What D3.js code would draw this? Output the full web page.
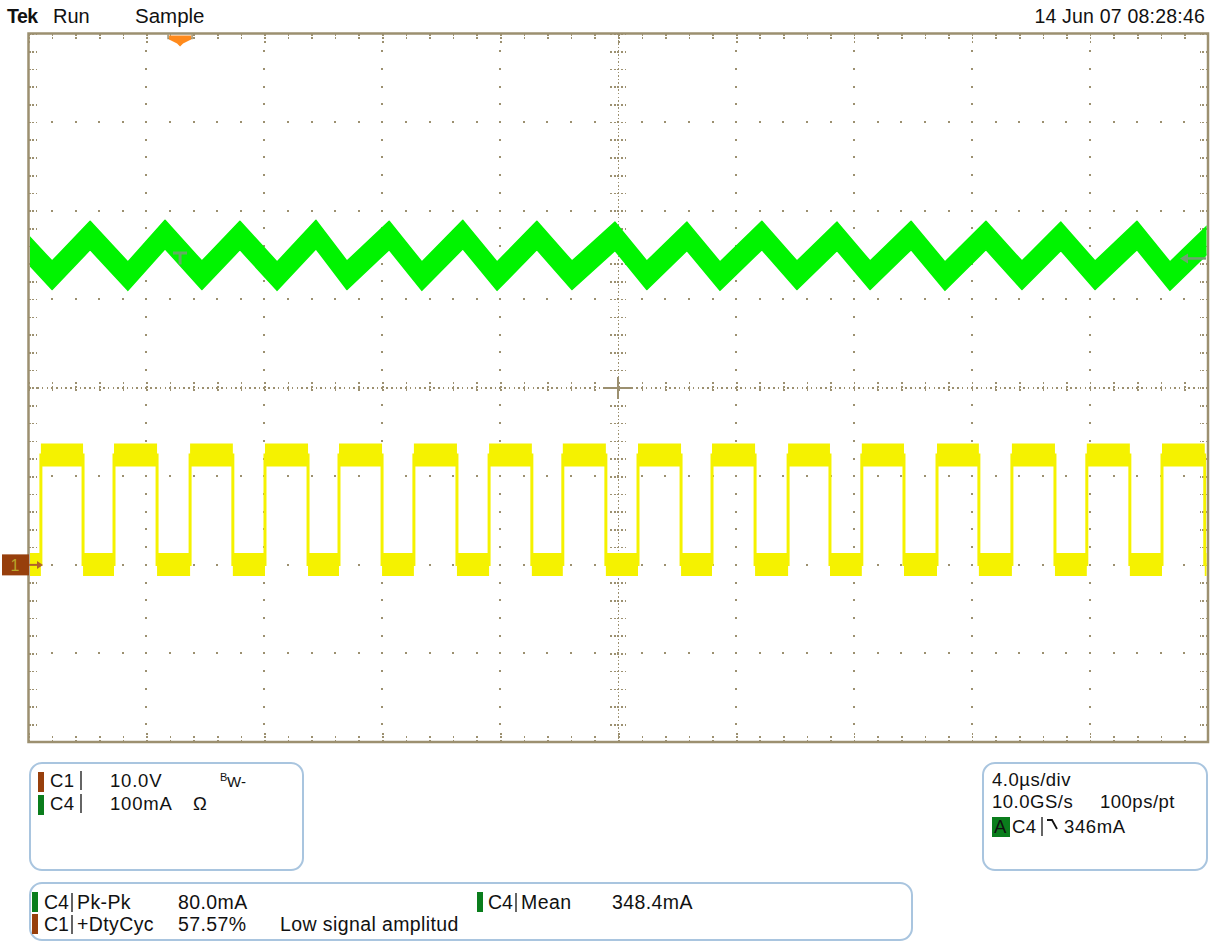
<!DOCTYPE html>
<html>
<head>
<meta charset="utf-8">
<script src="https://cdn.jsdelivr.net/npm/d3@7"></script>
<style>
  body { margin: 0; background: #fff; }
  text { font-family: "Liberation Sans", Arial, Helvetica, sans-serif; fill: #111; }
</style>
</head>
<body>
<svg id="scope" width="1214" height="942"></svg>
<script>
// ---- values (time in us from left edge, 4us/div) ----
var c4PeakTimes   = [-0.46, 2.09, 4.63, 7.17, 9.75, 12.23, 14.73, 17.24, 19.89, 22.33, 24.87, 27.42, 29.93, 32.47, 35.01, 37.59, 40.13];
var c4PeakMa      = [372, 372, 373, 372, 373, 372, 373, 372, 371, 371, 372, 371, 372, 372, 371, 372, 372];
var c4TroughTimes = [0.80, 3.37, 5.88, 8.43, 10.80, 13.34, 15.89, 18.43, 20.97, 23.45, 26.06, 28.54, 31.08, 33.69, 36.17, 38.71];
var c4TroughMa    = [327, 326, 327, 326, 327, 326, 326, 327, 327, 326, 327, 327, 326, 327, 327, 326];
var c4BandMa = 16;

var c1RiseTimes = [0.42, 2.90, 5.48, 8.02, 10.53, 13.07, 15.62, 18.12, 20.67, 23.18, 25.76, 28.26, 30.81, 33.35, 35.89, 38.44];
var c1FallTimes = [1.85, 4.36, 6.93, 9.48, 11.99, 14.53, 17.07, 19.58, 22.13, 24.64, 27.18, 29.69, 32.23, 34.81, 37.35, 39.89];
var c1HighV = 12.4, c1LowV = 0.05, c1BandV = 1.3;

var trigTime = 5.14, trigLevelMa = 346;

var headerLeft = ["Tek", "Run", "Sample"];
var headerDate = "14 Jun 07 08:28:46";
var chanRows = [["C1", "10.0V", "BW"], ["C4", "100mA", "\u03A9"]];
var timeRows = ["4.0\u00B5s/div", "10.0GS/s", "100ps/pt", "C4", "346mA"];
var measRows = [
  ["C4", "Pk-Pk", "80.0mA", ""],
  ["C1", "+DtyCyc", "57.57%", "Low signal amplitud"]
];
var meanRow = ["C4", "Mean", "348.4mA"];

// ---- layout ----
var svg = d3.select("#scope");
var L = 28.5, R = 1208, T = 33.5, B = 742;
var gridCol = "#9c9070";
var c1Col = "#f5f200", c4Col = "#00f400";
var c1Tag = "#973f0c", c4Tag = "#0a7d1c";

var x = d3.scaleLinear().domain([0, 40]).range([L, R]);
var yDiv = d3.scaleLinear().domain([-4, 4]).range([B, T]);
var yC1 = d3.scaleLinear().domain([-20, 60]).range([B, T]);   // 10V/div, gnd at -2div
var yC4 = d3.scaleLinear().domain([-200, 600]).range([B, T]); // 100mA/div, gnd at -2div

var majX = d3.range(0, 40.01, 4), minX = d3.range(0, 40.01, 0.8);
var majY = d3.range(-4, 4.01, 1), minY = d3.range(-4, 4.01, 0.2);
var cx = x(20), cy = yDiv(0);

var grid = svg.append("g").attr("shape-rendering", "crispEdges");

// dots on the inner major lines
majX.filter(function(d) { return d > 0 && d < 40 && d !== 20; }).forEach(function(mx) {
  grid.selectAll(null).data(minY.slice(1, -1)).enter().append("rect")
    .attr("x", x(mx) - 1).attr("y", function(d) { return yDiv(d) - 1; })
    .attr("width", 2).attr("height", 2).attr("fill", gridCol);
});
majY.filter(function(d) { return d > -4 && d < 4 && d !== 0; }).forEach(function(my) {
  grid.selectAll(null).data(minX.slice(1, -1)).enter().append("rect")
    .attr("x", function(d) { return x(d) - 1; }).attr("y", yDiv(my) - 1)
    .attr("width", 2).attr("height", 2).attr("fill", gridCol);
});

// centre lines: fine dots + minor ticks
grid.selectAll(null).data(d3.range(0, 40.01, 0.16)).enter().append("rect")
  .attr("x", function(d) { return x(d) - 0.75; }).attr("y", cy - 0.75)
  .attr("width", 1.5).attr("height", 1.5).attr("fill", gridCol);
grid.selectAll(null).data(d3.range(-4, 4.01, 0.04)).enter().append("rect")
  .attr("x", cx - 0.75).attr("y", function(d) { return yDiv(d) - 0.75; })
  .attr("width", 1.5).attr("height", 1.5).attr("fill", gridCol);

var cAxisX = d3.axisBottom(x).tickValues(minX).tickSize(11).tickSizeOuter(0).tickFormat("");
grid.append("g").attr("transform", "translate(0," + (cy - 5.5) + ")").call(cAxisX);
var cAxisY = d3.axisRight(yDiv).tickValues(minY).tickSize(16).tickSizeOuter(0).tickFormat("");
grid.append("g").attr("transform", "translate(" + (cx - 8) + ",0)").call(cAxisY);

// crosshair at the centre
grid.append("line").attr("x1", cx - 15).attr("x2", cx + 15).attr("y1", cy).attr("y2", cy)
  .attr("stroke", gridCol).attr("stroke-width", 2);
grid.append("line").attr("x1", cx).attr("x2", cx).attr("y1", cy - 11).attr("y2", cy + 11)
  .attr("stroke", gridCol).attr("stroke-width", 2);

// border ticks
function edge(axis, tx, ty) {
  grid.append("g").attr("transform", "translate(" + tx + "," + ty + ")").call(axis);
}
edge(d3.axisTop(x).tickValues(minX).tickSize(-7).tickSizeOuter(0).tickFormat(""), 0, T);
edge(d3.axisTop(x).tickValues(majX).tickSize(-10).tickSizeOuter(0).tickFormat(""), 0, T);
edge(d3.axisBottom(x).tickValues(minX).tickSize(-7).tickSizeOuter(0).tickFormat(""), 0, B);
edge(d3.axisBottom(x).tickValues(majX).tickSize(-10).tickSizeOuter(0).tickFormat(""), 0, B);
edge(d3.axisLeft(yDiv).tickValues(minY).tickSize(-8).tickSizeOuter(0).tickFormat(""), L, 0);
edge(d3.axisRight(yDiv).tickValues(minY).tickSize(-8).tickSizeOuter(0).tickFormat(""), R, 0);

grid.selectAll(".domain").remove();
grid.selectAll(".tick line").attr("stroke", gridCol).attr("stroke-width", 1.6).attr("stroke-dasharray", "2,1.6");

// border
svg.append("rect").attr("x", L).attr("y", T).attr("width", R - L).attr("height", B - T)
  .attr("fill", "none").attr("stroke", gridCol).attr("stroke-width", 2.5);

// ---- traces ----
svg.append("clipPath").attr("id", "plotclip").append("rect")
  .attr("x", L + 1.5).attr("y", T + 1.5).attr("width", R - L - 3).attr("height", B - T - 3);
var traces = svg.append("g").attr("clip-path", "url(#plotclip)");

// C4 inductor current: triangle band
var c4Pts = [];
c4PeakTimes.forEach(function(t, i) { c4Pts.push({ t: t, v: c4PeakMa[i] }); });
c4TroughTimes.forEach(function(t, i) { c4Pts.push({ t: t, v: c4TroughMa[i] }); });
c4Pts.sort(function(a, b) { return a.t - b.t; });

traces.append("path").datum(c4Pts)
  .attr("d", d3.area()
    .x(function(d) { return x(d.t); })
    .y0(function(d) { return yC4(d.v - c4BandMa); })
    .y1(function(d) { return yC4(d.v + c4BandMa); }))
  .attr("fill", c4Col).attr("stroke", c4Col).attr("stroke-width", 1.5).attr("stroke-linejoin", "round");

// C1 switch node: square wave band
var c1Pts = [{ t: 0, v: c1LowV }];
c1RiseTimes.forEach(function(r, i) {
  c1Pts.push({ t: r, v: c1HighV });
  c1Pts.push({ t: c1FallTimes[i], v: c1LowV });
});
c1Pts.push({ t: 40, v: c1LowV });

traces.append("path").datum(c1Pts)
  .attr("d", d3.area().curve(d3.curveStepAfter)
    .x(function(d) { return x(d.t); })
    .y0(function(d) { return yC1(d.v - c1BandV); })
    .y1(function(d) { return yC1(d.v + c1BandV); }))
  .attr("fill", c1Col);
traces.append("path").datum(c1Pts)
  .attr("d", d3.line().curve(d3.curveStepAfter)
    .x(function(d) { return x(d.t); })
    .y(function(d) { return yC1(d.v); }))
  .attr("fill", "none").attr("stroke", c1Col).attr("stroke-width", 3);

// ---- markers ----
// trigger point "T"
var tx0 = x(trigTime), ty0 = yC4(trigLevelMa);
svg.append("path")
  .attr("d", "M" + (tx0 - 7) + "," + (ty0 - 7) + "h14v3h-5.5v10h-3v-10h-5.5z")
  .attr("fill", "#6fa36f").attr("opacity", 0.9);
// trigger level arrow on the right
svg.append("path")
  .attr("d", "M" + (R - 2) + "," + ty0 + "H" + (R - 22))
  .attr("stroke", "#6fa36f").attr("stroke-width", 2.5);
svg.append("path")
  .attr("d", "M" + (R - 28) + "," + ty0 + "l8,-5v10z").attr("fill", "#6fa36f");
// trigger position on the top edge
svg.append("path")
  .attr("d", "M" + (tx0 - 12) + "," + (T + 1) + "v4h24v-4")
  .attr("fill", "none").attr("stroke", gridCol).attr("stroke-width", 1.5);
svg.append("path")
  .attr("d", "M" + (tx0 - 11) + "," + (T + 2) + "h22v4l-8,4l-3,3l-3,-3l-8,-4z")
  .attr("fill", "#ff8a1c");

// channel 1 ground marker
var g1 = yC1(0);
svg.append("rect").attr("x", 2).attr("y", g1 - 10.5).attr("width", 27).attr("height", 21)
  .attr("fill", c1Tag);
svg.append("text").attr("x", 15).attr("y", g1 + 6).attr("text-anchor", "middle")
  .attr("font-size", 16).style("fill", "#b8a62a").text("1");
svg.append("line").attr("x1", 29).attr("x2", 38).attr("y1", g1).attr("y2", g1)
  .attr("stroke", "#b0642a").attr("stroke-width", 2);
svg.append("path").attr("d", "M43," + g1 + "l-6,-4v8z").attr("fill", "#b0642a");

// ---- header text ----
svg.append("text").attr("x", 7).attr("y", 23).attr("font-size", 19.5).attr("font-weight", "bold")
  .attr("letter-spacing", -0.5).text(headerLeft[0]);
svg.append("text").attr("x", 53).attr("y", 23).attr("font-size", 20).text(headerLeft[1]);
svg.append("text").attr("x", 135).attr("y", 23).attr("font-size", 20.5).text(headerLeft[2]);
svg.append("text").attr("x", 1205).attr("y", 23).attr("font-size", 19.5).attr("text-anchor", "end")
  .attr("letter-spacing", 0.2).text(headerDate);

// ---- readout boxes ----
function box(x0, y0, w, h) {
  svg.append("rect").attr("x", x0).attr("y", y0).attr("width", w).attr("height", h)
    .attr("rx", 12).attr("fill", "#fff").attr("stroke", "#a9c5df").attr("stroke-width", 2);
}
function tag(x0, y0, col) {
  svg.append("rect").attr("x", x0).attr("y", y0).attr("width", 6).attr("height", 20).attr("fill", col);
}
function txt(x0, y0, s, size, extra) {
  var t = svg.append("text").attr("x", x0).attr("y", y0).attr("font-size", size || 18).text(s);
  if (extra) t.attr("letter-spacing", extra);
  return t;
}
function bar(x0, y0) {
  svg.append("line").attr("x1", x0).attr("x2", x0).attr("y1", y0 - 16).attr("y2", y0 + 3)
    .attr("stroke", "#111").attr("stroke-width", 1.3);
}

// channel box
box(30, 763, 273, 107);
[0, 1].forEach(function(i) {
  var by = 787 + i * 23;
  tag(38, by - 15, i === 0 ? c1Tag : c4Tag);
  txt(50, by, chanRows[i][0], 18.5, 0.5);
  bar(81, by);
  txt(110, by, chanRows[i][1], 18.5, 0.8);
});
txt(220, 781, "B", 11);
txt(227, 787, "W-", 15);
txt(193, 810, chanRows[1][2], 18.5);

// timebase box
box(983, 763, 224, 107);
txt(992, 786, timeRows[0], 18.5, 0.5);
txt(992, 808, timeRows[1], 18.5, 0.5);
txt(1100, 808, timeRows[2], 18.5, 0.5);
svg.append("rect").attr("x", 992).attr("y", 817).attr("width", 18).attr("height", 20).attr("fill", c4Tag);
txt(994, 833, "A", 18.5);
txt(1012, 833, timeRows[3], 18.5, 0.5);
bar(1042, 833);
svg.append("path").attr("d", "M1047,820h5l5,9").attr("fill", "none").attr("stroke", "#111").attr("stroke-width", 1.8);
txt(1064, 833, timeRows[4], 18.5, 0.6);

// measurement box
box(30, 883, 882, 57);
measRows.forEach(function(r, i) {
  var by = 909 + i * 22;
  tag(32, by - 17, i === 0 ? c4Tag : c1Tag);
  txt(44, by, r[0], 19.5);
  bar(72, by);
  txt(77, by, r[1], 19.5, 0.4);
  txt(178, by, r[2], 19.5, 0.4);
  if (r[3]) txt(280, by, r[3], 19.5, 0.4);
});
tag(477, 892, c4Tag);
txt(488, 909, meanRow[0], 19.5);
bar(516, 909);
txt(521, 909, meanRow[1], 19.5, 0.4);
txt(612, 909, meanRow[2], 19.5, 0.4);
</script>
</body>
</html>
